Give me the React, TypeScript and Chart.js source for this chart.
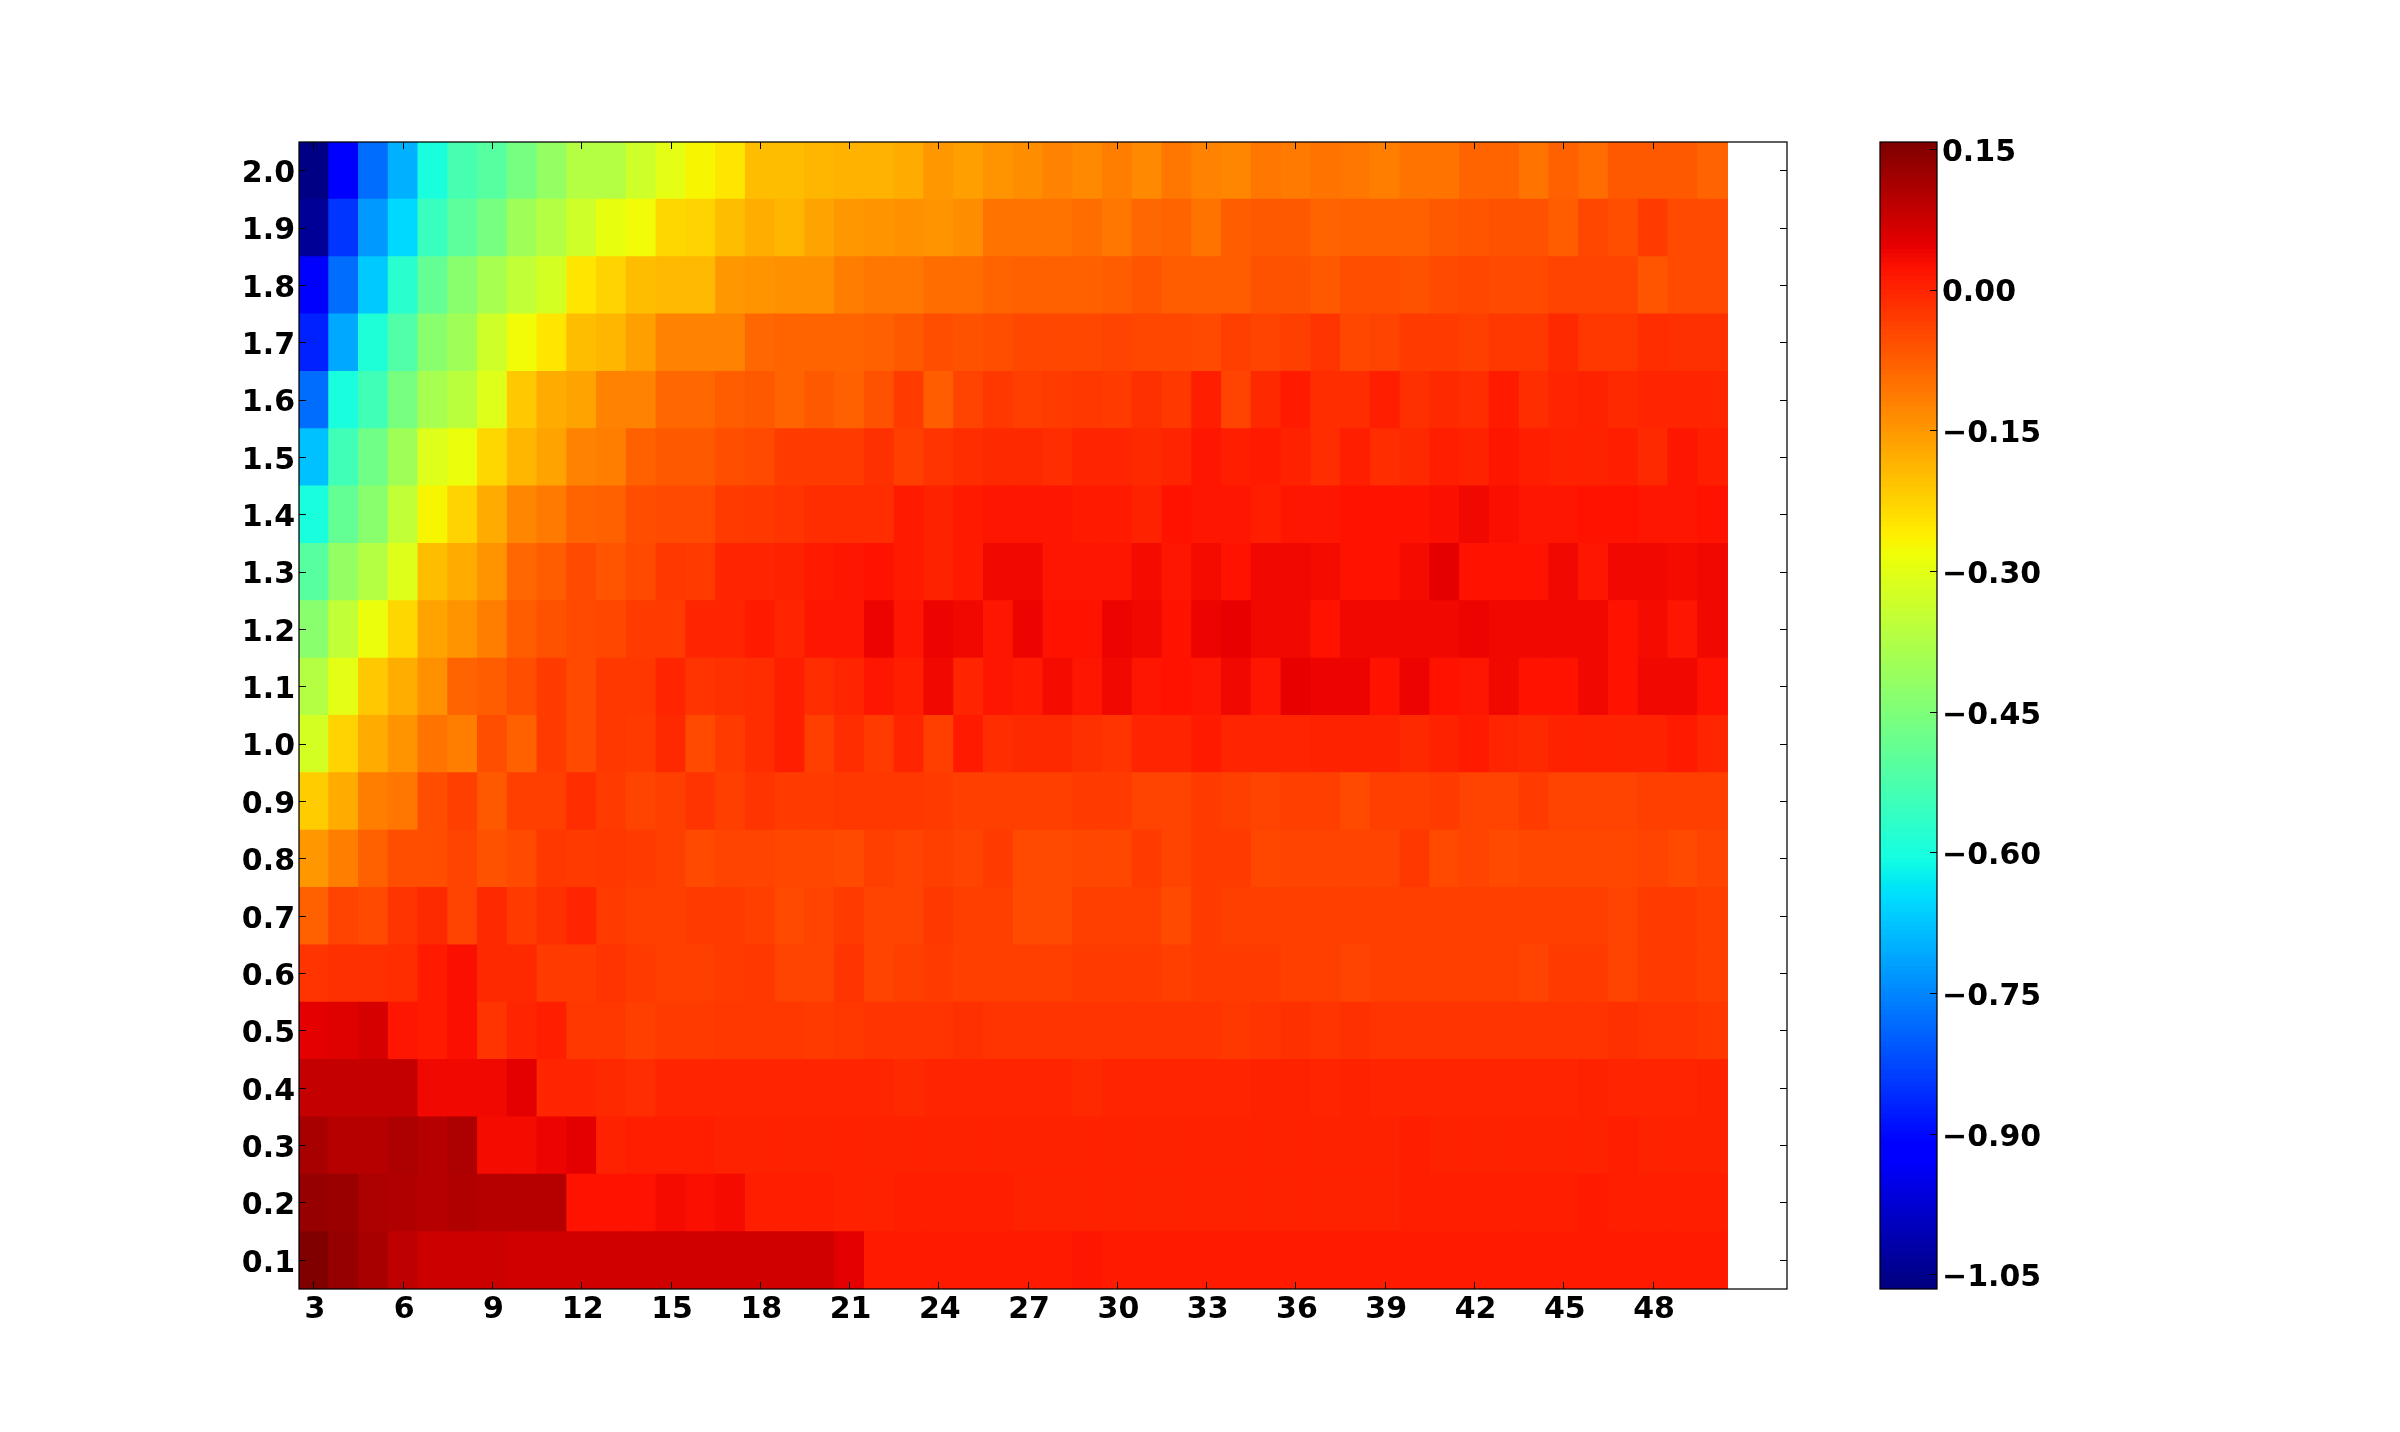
import React, { useEffect, useRef } from "react";
import { Chart, registerables } from "chart.js";

Chart.register(...registerables);

// Column categories (x axis runs two empty slots past the data)
const xCategories = [3,4,5,6,7,8,9,10,11,12,13,14,15,16,17,18,19,20,21,22,23,24,25,26,27,28,29,30,31,32,33,34,35,36,37,38,39,40,41,42,43,44,45,46,47,48,49,50,51,52];
const xTickLabels = [3,6,9,12,15,18,21,24,27,30,33,36,39,42,45,48];
const yTickLabels = [0.1,0.2,0.3,0.4,0.5,0.6,0.7,0.8,0.9,1.0,1.1,1.2,1.3,1.4,1.5,1.6,1.7,1.8,1.9,2.0];
const colorbarTicks = [-1.05,-0.9,-0.75,-0.6,-0.45,-0.3,-0.15,0,0.15];
const colorMin = -1.065;
const colorMax = 0.158;

const row20 = [-1.06,-.93,-.78,-.70,-.60,-.53,-.51,-.46,-.42,-.37,-.37,-.33,-.30,-.27,-.25,-.20,-.20,-.19,-.185,-.185,-.175,-.15,-.16,-.145,-.135,-.12,-.13,-.115,-.13,-.105,-.12,-.125,-.105,-.11,-.10,-.105,-.115,-.10,-.10,-.085,-.085,-.10,-.08,-.095,-.07,-.07,-.07,-.085];
const row19 = [-1.04,-.85,-.73,-.65,-.55,-.50,-.46,-.40,-.37,-.33,-.295,-.28,-.23,-.225,-.20,-.18,-.19,-.165,-.15,-.145,-.14,-.145,-.135,-.10,-.10,-.10,-.095,-.105,-.09,-.085,-.10,-.075,-.07,-.07,-.085,-.08,-.08,-.08,-.07,-.065,-.06,-.06,-.075,-.045,-.055,-.03,-.05,-.05];
const row18 = [-.93,-.78,-.67,-.575,-.49,-.43,-.39,-.35,-.32,-.25,-.225,-.20,-.195,-.195,-.15,-.145,-.14,-.14,-.115,-.105,-.105,-.095,-.095,-.085,-.08,-.08,-.08,-.075,-.065,-.075,-.075,-.075,-.06,-.06,-.07,-.055,-.055,-.06,-.05,-.045,-.05,-.05,-.04,-.04,-.04,-.065,-.05,-.05];
const row17 = [-.87,-.71,-.59,-.52,-.43,-.40,-.33,-.28,-.25,-.20,-.19,-.16,-.12,-.12,-.12,-.09,-.085,-.085,-.085,-.08,-.07,-.055,-.06,-.055,-.045,-.045,-.045,-.04,-.045,-.045,-.05,-.035,-.04,-.035,-.02,-.045,-.04,-.03,-.03,-.035,-.025,-.025,-.005,-.025,-.025,-.01,-.015,-.015];
const row16 = [-.78,-.60,-.54,-.46,-.39,-.36,-.31,-.21,-.175,-.165,-.12,-.12,-.09,-.09,-.075,-.07,-.085,-.07,-.08,-.06,-.03,-.075,-.04,-.025,-.035,-.03,-.025,-.03,-.015,-.025,.008,-.04,-.005,.01,-.01,-.01,.006,-.015,-.005,-.01,.01,-.01,0,.004,-.005,0,0,0];
const row15 = [-.68,-.54,-.47,-.40,-.31,-.29,-.23,-.19,-.165,-.12,-.115,-.08,-.07,-.07,-.055,-.05,-.03,-.03,-.03,-.015,-.035,-.02,-.01,-.005,-.005,-.01,0,0,-.005,0,.018,.008,.01,.004,-.01,.008,-.01,-.005,.008,.004,.018,.008,.004,.004,.008,-.005,.018,.008];
const row14 = [-.60,-.49,-.43,-.35,-.27,-.225,-.175,-.125,-.11,-.085,-.08,-.055,-.05,-.05,-.03,-.025,-.02,-.01,-.01,-.01,.012,.005,.012,.015,.015,.015,.012,.01,.005,.02,.018,.015,.008,.018,.018,.02,.02,.02,.025,.035,.025,.018,.018,.02,.02,.018,.018,.02];
const row13 = [-.51,-.42,-.37,-.31,-.20,-.175,-.145,-.09,-.075,-.05,-.065,-.05,-.025,-.03,0,0,.005,.01,.018,.02,.012,.005,.012,.035,.037,.018,.018,.017,.03,.018,.03,.02,.035,.035,.03,.02,.02,.03,.05,.02,.02,.02,.035,.017,.038,.038,.03,.035];
const row12 = [-.43,-.35,-.29,-.23,-.165,-.145,-.115,-.075,-.06,-.05,-.045,-.03,-.03,0,0,.01,0,.015,.018,.04,.018,.04,.035,.015,.04,.02,.02,.04,.035,.02,.04,.045,.035,.035,.02,.035,.035,.035,.035,.04,.035,.035,.035,.035,.02,.03,.018,.035];
const row11 = [-.37,-.30,-.21,-.18,-.14,-.085,-.075,-.055,-.03,-.05,-.025,-.025,0,-.02,-.015,-.01,.008,-.01,0,.015,.008,.035,0,.015,.012,.03,.015,.035,.015,.02,.015,.035,.015,.045,.04,.04,.02,.04,.02,.015,.035,.02,.02,.035,.02,.035,.035,.02];
const row10 = [-.32,-.225,-.175,-.145,-.10,-.115,-.055,-.08,-.03,-.05,-.025,-.03,-.005,-.05,-.03,-.01,.008,-.035,-.01,-.03,0,-.035,.012,-.01,-.005,-.005,-.015,-.02,0,0,.012,0,0,0,.004,.004,.004,-.005,.003,.01,0,-.005,.004,.004,.004,.004,.01,0];
const row09 = [-.215,-.175,-.115,-.105,-.055,-.035,-.07,-.035,-.035,-.01,-.03,-.04,-.035,-.02,-.035,-.02,-.03,-.03,-.025,-.025,-.025,-.03,-.035,-.035,-.035,-.035,-.03,-.03,-.04,-.04,-.03,-.035,-.04,-.035,-.035,-.05,-.035,-.035,-.03,-.04,-.04,-.03,-.04,-.04,-.04,-.035,-.035,-.035];
const row08 = [-.15,-.115,-.08,-.055,-.055,-.04,-.06,-.05,-.025,-.03,-.025,-.03,-.035,-.05,-.04,-.04,-.045,-.045,-.05,-.035,-.04,-.035,-.04,-.03,-.05,-.05,-.045,-.045,-.03,-.04,-.03,-.03,-.045,-.04,-.04,-.04,-.04,-.025,-.05,-.04,-.05,-.045,-.045,-.045,-.045,-.04,-.05,-.04];
const row07 = [-.08,-.04,-.05,-.02,-.005,-.04,-.005,-.03,-.015,0,-.03,-.035,-.035,-.03,-.03,-.035,-.05,-.04,-.03,-.04,-.04,-.025,-.035,-.035,-.05,-.05,-.035,-.035,-.035,-.05,-.03,-.035,-.035,-.035,-.035,-.035,-.035,-.035,-.035,-.035,-.035,-.035,-.035,-.035,-.04,-.03,-.03,-.035];
const row06 = [-.02,-.015,-.015,-.01,.012,.025,-.005,-.005,-.03,-.03,-.02,-.03,-.035,-.035,-.03,-.025,-.04,-.04,-.02,-.04,-.035,-.03,-.035,-.035,-.035,-.035,-.03,-.03,-.03,-.035,-.03,-.03,-.03,-.035,-.035,-.04,-.035,-.035,-.035,-.035,-.035,-.04,-.03,-.03,-.04,-.03,-.03,-.035];
const row05 = [.05,.054,.063,.016,.012,.025,-.02,0,.008,-.025,-.025,-.035,-.03,-.03,-.025,-.025,-.025,-.03,-.025,-.02,-.02,-.02,-.015,-.02,-.02,-.02,-.02,-.02,-.02,-.02,-.02,-.025,-.02,-.015,-.02,-.015,-.02,-.02,-.02,-.02,-.02,-.02,-.02,-.02,-.015,-.02,-.02,-.025];
const row04 = [.083,.083,.083,.083,.035,.035,.035,.052,0,0,-.005,-.01,0,0,0,-.003,-.003,-.003,-.003,-.003,-.005,-.003,-.002,-.002,-.002,-.002,-.005,0,0,-.003,0,0,.002,.002,0,.003,0,0,0,0,0,0,0,.002,0,0,0,.003];
const row03 = [.115,.10,.10,.11,.10,.11,.03,.03,.04,.05,.003,.006,.006,.006,.002,.002,.002,.002,.003,.003,.003,.003,.003,.003,.004,.004,.004,.004,.004,.004,.004,.004,.004,.004,.003,.003,.003,.008,.005,.003,.003,.003,.003,.003,.007,.003,.003,.003];
const row02 = [.13,.125,.11,.105,.10,.105,.10,.10,.10,.02,.02,.02,.03,.025,.03,.007,.007,.007,.005,.005,.008,.008,.008,.008,.005,.005,.005,.005,.005,.005,.005,.005,.005,.005,.005,.005,.005,.008,.008,.008,.007,.007,.007,.01,.008,.008,.008,.008];
const row01 = [.158,.13,.115,.09,.076,.076,.076,.072,.07,.07,.072,.068,.068,.068,.068,.068,.068,.068,.05,.014,.014,.014,.014,.014,.014,.014,.016,.014,.014,.014,.014,.014,.014,.014,.014,.014,.014,.014,.014,.014,.014,.014,.014,.014,.014,.012,.014,.014];

const rowsBottomUp = [row01,row02,row03,row04,row05,row06,row07,row08,row09,row10,row11,row12,row13,row14,row15,row16,row17,row18,row19,row20];

// Classic "jet" colormap segment tables
const jetR = [[0,0],[0.35,0],[0.66,1],[0.89,1],[1,0.5]];
const jetG = [[0,0],[0.125,0],[0.375,1],[0.64,1],[0.91,0],[1,0]];
const jetB = [[0,0.5],[0.11,1],[0.34,1],[0.65,0],[1,0]];

function seg(table: number[][], t: number) {
  for (let i = 1; i < table.length; i++) {
    if (t <= table[i][0]) {
      const [a, av] = table[i - 1];
      const [b, bv] = table[i];
      return av + ((t - a) / (b - a)) * (bv - av);
    }
  }
  return table[table.length - 1][1];
}
function jet(v: number) {
  const t = Math.max(0, Math.min(1, (v - colorMin) / (colorMax - colorMin)));
  const q = Math.min(255, Math.floor(t * 256)) / 255;
  const c = (tb: number[][]) => Math.round(seg(tb, q) * 255);
  return `rgb(${c(jetR)},${c(jetG)},${c(jetB)})`;
}

const FONT = { family: '"DejaVu Sans"', size: 30, weight: "bold" as const };
const W = 2400;
const H = 1432;

const framePlugin = {
  id: "frame",
  afterDraw(chart: any) {
    const a = chart.chartArea;
    const ctx = chart.ctx;
    ctx.save();
    ctx.strokeStyle = "#000";
    ctx.lineWidth = 1.25;
    ctx.strokeRect(a.left, a.top, a.right - a.left, a.bottom - a.top);
    ctx.restore();
  },
};

const inwardGrid = { drawOnChartArea: false, drawTicks: true, tickLength: -7, tickColor: "#000", lineWidth: 1, z: 1, offset: false };

function fix(size: number, dim: "width" | "height") {
  return (s: any) => { s[dim] = size; };
}

const xTickFilter = (s: any) => {
  s.ticks = s.ticks.filter((t: any) => xTickLabels.includes(xCategories[t.value]));
};
const yTickSet = (s: any) => { s.ticks = yTickLabels.map((value) => ({ value })); };
const cbTickSet = (s: any) => { s.ticks = colorbarTicks.map((value) => ({ value })); };

const canvasStyle: React.CSSProperties = { position: "fixed", left: 0, top: 0, width: W, height: H };

export default function App() {
  const mainRef = useRef<HTMLCanvasElement>(null);
  const barRef = useRef<HTMLCanvasElement>(null);

  useEffect(() => {
    const rowStep = 0.1;
    const main = new Chart(mainRef.current!, {
      type: "bar",
      plugins: [framePlugin],
      data: {
        labels: xCategories,
        datasets: rowsBottomUp.map((row, i) => ({
          data: row.map(() => [yTickLabels[i] - rowStep / 2, yTickLabels[i] + rowStep / 2]),
          backgroundColor: row.map(jet),
          borderWidth: 0,
          inflateAmount: 0.5,
          barPercentage: 1,
          categoryPercentage: 1,
          grouped: false,
          xAxisID: "x",
          yAxisID: "y",
        })),
      } as any,
      options: {
        animation: false,
        responsive: false,
        events: [],
        devicePixelRatio: 1,
        layout: { padding: 0 },
        plugins: { legend: { display: false }, tooltip: { enabled: false }, title: { display: false } },
        scales: {
          x: {
            type: "category",
            position: "bottom",
            offset: true,
            grid: inwardGrid,
            border: { display: false },
            afterBuildTicks: xTickFilter,
            afterFit: fix(H - 1289, "height"),
            ticks: { autoSkip: false, maxRotation: 0, minRotation: 0, color: "#000", font: FONT, padding: 10, labelOffset: 1 },
          },
          x2: {
            type: "category",
            labels: xCategories,
            position: "top",
            offset: true,
            grid: inwardGrid,
            border: { display: false },
            afterBuildTicks: xTickFilter,
            afterFit: fix(142, "height"),
            ticks: { display: false, autoSkip: false, maxRotation: 0, minRotation: 0 },
          },
          y: {
            type: "linear",
            position: "left",
            min: 0.05,
            max: 2.05,
            grid: inwardGrid,
            border: { display: false },
            afterBuildTicks: yTickSet,
            afterFit: fix(299, "width"),
            ticks: { autoSkip: false, color: "#000", font: FONT, padding: 11, labelOffset: 3.5, callback: (v: any) => Number(v).toFixed(1) },
          },
          y2: {
            type: "linear",
            position: "right",
            min: 0.05,
            max: 2.05,
            grid: inwardGrid,
            border: { display: false },
            afterBuildTicks: yTickSet,
            afterFit: fix(W - 1787, "width"),
            ticks: { display: false, autoSkip: false },
          },
        },
      } as any,
    });

    const levels = Array.from({ length: 256 }, (_, i) => colorMin + (i / 256) * (colorMax - colorMin));
    const levelStep = (colorMax - colorMin) / 256;
    const bar = new Chart(barRef.current!, {
      type: "bar",
      plugins: [framePlugin],
      data: {
        labels: ["colorbar"],
        datasets: levels.map((lv) => ({
          data: [[lv, lv + levelStep]],
          backgroundColor: jet(lv + levelStep / 2),
          borderWidth: 0,
          inflateAmount: 0.5,
          barPercentage: 1,
          categoryPercentage: 1,
          grouped: false,
        })),
      } as any,
      options: {
        animation: false,
        responsive: false,
        events: [],
        devicePixelRatio: 1,
        layout: { padding: { left: 1880, top: 142, bottom: H - 1289 } },
        plugins: { legend: { display: false }, tooltip: { enabled: false }, title: { display: false } },
        scales: {
          x: { type: "category", display: false, offset: true },
          y: {
            type: "linear",
            position: "right",
            min: colorMin,
            max: colorMax,
            grid: inwardGrid,
            border: { display: false },
            afterBuildTicks: cbTickSet,
            afterFit: fix(W - 1937, "width"),
            ticks: {
              autoSkip: false,
              color: "#000",
              font: FONT,
              padding: 12,
              labelOffset: 3.5,
              callback: (v: any) => {
                const n = Number(v);
                const s = Math.abs(n).toFixed(2);
                return n < -1e-9 ? "\u2212" + s : s;
              },
            },
          },
        },
      } as any,
    });

    return () => {
      main.destroy();
      bar.destroy();
    };
  }, []);

  return (
    <div>
      <canvas ref={mainRef} width={W} height={H} style={canvasStyle} />
      <canvas ref={barRef} width={W} height={H} style={canvasStyle} />
    </div>
  );
}
